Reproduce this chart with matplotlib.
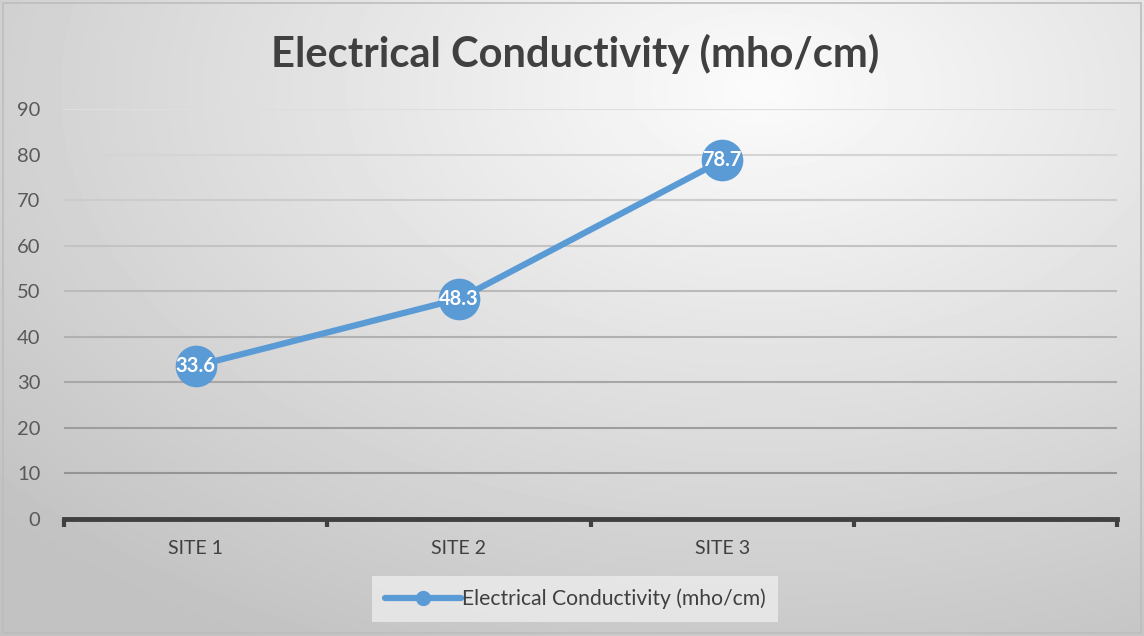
import numpy as np
import matplotlib
matplotlib.use("Agg")
from matplotlib import pyplot as plt
from matplotlib.patches import Rectangle

# conductivity readings per site
sites = ["SITE 1", "SITE 2", "SITE 3", ""]
conductivity = [33.6, 48.3, 78.7]
series_name = "Electrical Conductivity (mho/cm)"
y_ticks = list(range(0, 100, 10))

plt.rcParams['font.family'] = ['Lato', 'DejaVu Sans']

fig = plt.figure(figsize=(11.44, 6.36), dpi=100)

# soft radial background, brightest near the top centre-right
bg = fig.add_axes([0, 0, 1, 1], zorder=-10)
yy, xx = np.mgrid[0:636, 0:1144]
d = np.sqrt(((xx - 760) / 1144.0) ** 2 + ((yy - 90) / 700.0) ** 2)
shade = np.clip(0.985 - 0.25 * d, 0.76, 1.0)
bg.imshow(shade, cmap="gray", vmin=0, vmax=1, aspect="auto", extent=[0, 1, 0, 1], origin="upper")
bg.add_patch(Rectangle((0.003, 0.004), 0.994, 0.992, fill=False, edgecolor="#bdbdbd", lw=1.2,
                       transform=bg.transAxes))
bg.set_axis_off()

ax = fig.add_axes([64 / 1144, 117 / 636, (1117 - 64) / 1144, (519 - 109) / 636])
ax.patch.set_alpha(0)

x = np.arange(len(conductivity)) + 0.5
ax.plot(x, conductivity, color="#5b9bd5", lw=4.5, marker="o", markersize=30,
        markeredgewidth=0, solid_capstyle="round", label=series_name, zorder=5)
for xi, v in zip(x, conductivity):
    ax.text(xi, v, f"{v}", ha="center", va="center", color="white",
            fontsize=14.5, fontweight="bold", zorder=6)

ax.set_xlim(0, len(sites))
ax.set_ylim(0, 90)
ax.set_yticks(y_ticks)
ax.set_xticks(np.arange(len(sites) + 1))
ax.set_xticklabels([])
ax.set_xticks(np.arange(len(sites)) + 0.5, minor=True)
ax.set_xticklabels(sites, minor=True)

ax.tick_params(axis="y", length=0, labelsize=14.5, labelcolor="#595959", pad=17)
ax.tick_params(axis="x", which="major", length=6, width=3, color="#404040", direction="out")
ax.tick_params(axis="x", which="minor", length=0, labelsize=14, labelcolor="#404040", pad=15)

for s in ["top", "right", "left"]:
    ax.spines[s].set_visible(False)
ax.spines["bottom"].set_color("#404040")
ax.spines["bottom"].set_linewidth(3.5)

ax.yaxis.grid(True, lw=1.5)
# gridlines fade lighter toward the top
for i, gl in enumerate(ax.get_ygridlines()):
    g = 0.55 + 0.32 * i / (len(y_ticks) - 1)
    gl.set_color((g, g, g))
ax.set_axisbelow(True)

fig.text(575 / 1144, 1 - 54 / 636, series_name, ha="center", va="center",
         fontsize=30, fontweight="bold", color="#404040")

leg = fig.legend(loc="center", bbox_to_anchor=(575 / 1144, 1 - 599 / 636), fontsize=15.2,
                 frameon=True, fancybox=False, handlelength=3.6, handletextpad=0.05,
                 borderpad=0.62, borderaxespad=0, markerscale=0.35)
leg.get_frame().set_facecolor("#ececec")
leg.get_frame().set_edgecolor("none")
leg.get_frame().set_alpha(0.8)
for t in leg.get_texts():
    t.set_color("#404040")
for h in leg.legend_handles:
    h.set_linewidth(4.5)
    h.set_markersize(11)

fig.savefig("out.png", dpi=100)
